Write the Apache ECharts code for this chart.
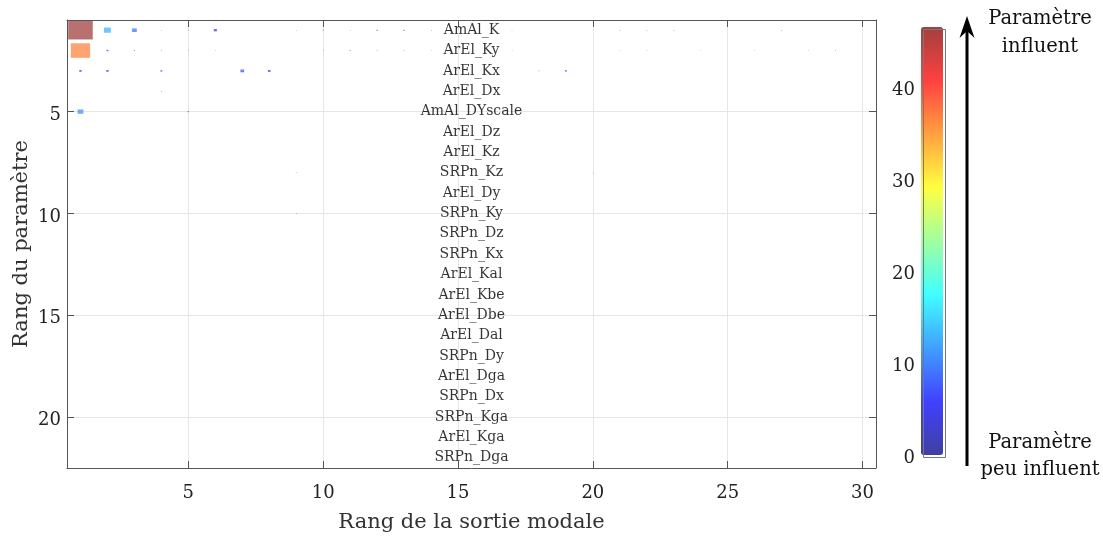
<!DOCTYPE html>
<html>
<head>
<meta charset="utf-8">
<script src="https://cdn.jsdelivr.net/npm/echarts@6/dist/echarts.min.js"></script>
<style>
html,body{margin:0;padding:0;background:#fff;}
#chart{width:1103px;height:543px;}
</style>
</head>
<body>
<div id="chart"></div>
<script>
// ---- data ----
const paramNames = ['AmAl_K','ArEl_Ky','ArEl_Kx','ArEl_Dx','AmAl_DYscale','ArEl_Dz','ArEl_Kz','SRPn_Kz','ArEl_Dy','SRPn_Ky','SRPn_Dz','SRPn_Kx','ArEl_Kal','ArEl_Kbe','ArEl_Dbe','ArEl_Dal','SRPn_Dy','ArEl_Dga','SRPn_Dx','SRPn_Kga','ArEl_Kga','SRPn_Dga'];
const labelX = 15.5;
const xTicks = [5, 10, 15, 20, 25, 30];
const yTicks = [5, 10, 15, 20];
const cbTicks = [0, 10, 20, 30, 40];
const cbMax = 46.5;
// sparse influence values: modal output rank (x), parameter rank (y), value
const ptX = [1,2,3,4,5,6,9,10,11,12,13,14,17,21,22,23,27,
             1,2,3,4,5,6,10,11,12,13,14,17,21,22,24,26,28,29,
             1,2,4,7,8,18,19,
             4,
             1,5,
             9,20,
             9];
const ptY = [1,1,1,1,1,1,1,1,1,1,1,1,1,1,1,1,1,
             2,2,2,2,2,2,2,2,2,2,2,2,2,2,2,2,2,2,
             3,3,3,3,3,3,3,
             4,
             5,5,
             8,8,
             10];
const ptV = [46.5,13,9,0.8,1.5,6,0.8,2,0.8,2.5,2.5,0.6,0.8,0.5,0.5,0.5,0.7,
             36.5,3.5,2,1.2,0.8,0.5,0.6,2,1.2,1,0.6,0.6,0.5,0.6,0.7,0.6,0.6,1,
             4.5,4.5,3.5,7,5,1.5,3.5,
             1.2,
             11,2.5,
             1.5,0.4,
             0.5];

const points = ptX.map((x, i) => [x, ptY[i], ptV[i]]);
const labelData = paramNames.map((n, i) => [labelX, i + 1, n]);

const serif = '"DejaVu Serif", "Liberation Serif", serif';
const axisCol = '#555';
const shiftedLabel = {
  formatter: v => '{t|' + v + '}',
  rich: { t: { fontFamily: serif, fontSize: 18, color: '#222', padding: [7, 0, 0, 0] } }
};

const chart = echarts.init(document.getElementById('chart'));
const commonX = {
  type: 'value', min: 0.5, max: 30.5, gridIndex: 0,
  axisLine: { show: true, lineStyle: { color: axisCol, width: 1 } },
  axisTick: { show: true, inside: true, length: 7, customValues: xTicks, lineStyle: { color: axisCol } },
  splitLine: { show: false }
};
const commonY = {
  type: 'value', min: 0.5, max: 22.5, inverse: true, gridIndex: 0,
  axisLine: { show: true, lineStyle: { color: axisCol, width: 1 } },
  axisTick: { show: true, inside: true, length: 7, customValues: yTicks, lineStyle: { color: axisCol } },
  splitLine: { show: false }
};

chart.setOption({
  animation: false,
  backgroundColor: '#fff',
  grid: [
    { left: 67, right: 227, top: 20, bottom: 75, outerBoundsMode: 'none', containLabel: false },
    { left: 921, width: 22, top: 27, height: 428, outerBoundsMode: 'none', containLabel: false }
  ],
  xAxis: [
    Object.assign({}, commonX, {
      position: 'bottom',
      axisLabel: { customValues: xTicks, fontFamily: serif, fontSize: 18, color: '#222', margin: 16 },
      splitLine: { show: true, lineStyle: { color: '#e6e6e6', width: 1 } },
      name: 'Rang de la sortie modale', nameLocation: 'middle', nameGap: 44, nameMoveOverlap: false,
      nameTextStyle: { fontFamily: serif, fontSize: 21, color: '#333' }
    }),
    Object.assign({}, commonX, { position: 'top', axisLabel: { show: false } }),
    { type: 'value', gridIndex: 1, show: false, min: 0, max: 1 }
  ],
  yAxis: [
    Object.assign({}, commonY, {
      position: 'left',
      axisLabel: Object.assign({ customValues: yTicks, margin: 6 }, shiftedLabel),
      splitLine: { show: true, lineStyle: { color: '#e6e6e6', width: 1 } },
      name: 'Rang du paramètre', nameLocation: 'middle', nameGap: 35, nameMoveOverlap: false,
      nameTextStyle: { fontFamily: serif, fontSize: 21, color: '#333' }
    }),
    Object.assign({}, commonY, { position: 'right', axisLabel: { show: false } }),
    {
      type: 'value', gridIndex: 1, min: 0, max: cbMax, position: 'left',
      axisLine: { show: false }, axisTick: { show: false }, splitLine: { show: false },
      axisLabel: Object.assign({ customValues: cbTicks, margin: 6 }, shiftedLabel)
    }
  ],
  visualMap: {
    type: 'continuous', min: 0, max: cbMax, dimension: 2, seriesIndex: 0,
    calculable: false, left: 921, top: 27, itemWidth: 22, itemHeight: 428,
    padding: 0, text: null, showLabel: false,
    inRange: { color: ['#4040a0','#4040ff','#40a0ff','#40ffff','#a0ffa0','#ffff40','#ffa040','#ff4040','#a04040'] }
  },
  series: [
    {
      type: 'custom', xAxisIndex: 0, yAxisIndex: 0, data: points, z: 3,
      renderItem: function (params, api) {
        const x = api.value(0), y = api.value(1), v = api.value(2);
        const half = v * 0.0098;
        const p1 = api.coord([x - half, y - half]);
        const p2 = api.coord([x + half, y + half]);
        return {
          type: 'rect',
          shape: { x: Math.min(p1[0], p2[0]), y: Math.min(p1[1], p2[1]),
                   width: Math.max(Math.abs(p2[0] - p1[0]), 0.6), height: Math.max(Math.abs(p2[1] - p1[1]), 0.6) },
          style: { fill: api.visual('color'), opacity: 0.75 }
        };
      }
    },
    {
      type: 'scatter', xAxisIndex: 0, yAxisIndex: 0, data: labelData, symbolSize: 0, z: 4,
      label: { show: true, position: 'inside', formatter: p => p.data[2],
               fontFamily: serif, fontSize: 14, color: '#000' }
    }
  ],
  graphic: [
    { type: 'rect', left: 921, top: 27, shape: { width: 22, height: 428 }, style: { fill: 'none', stroke: '#777', lineWidth: 1 }, z: 100 },
    { type: 'line', shape: { x1: 967, y1: 466, x2: 967, y2: 24 }, style: { stroke: '#000', lineWidth: 3 }, z: 100 },
    { type: 'polygon', shape: { points: [[967, 16], [974.5, 38], [967, 31], [959.5, 38]] }, style: { fill: '#000' }, z: 100 },
    { type: 'text', x: 1040, y: 19, style: { text: 'Paramètre', font: '19.5px ' + serif, fill: '#111', align: 'center', verticalAlign: 'middle' }, z: 100 },
    { type: 'text', x: 1040, y: 47, style: { text: 'influent', font: '19.5px ' + serif, fill: '#111', align: 'center', verticalAlign: 'middle' }, z: 100 },
    { type: 'text', x: 1040, y: 443, style: { text: 'Paramètre', font: '19.5px ' + serif, fill: '#111', align: 'center', verticalAlign: 'middle' }, z: 100 },
    { type: 'text', x: 1040, y: 470, style: { text: 'peu influent', font: '19.5px ' + serif, fill: '#111', align: 'center', verticalAlign: 'middle' }, z: 100 }
  ]
});
</script>
</body>
</html>
